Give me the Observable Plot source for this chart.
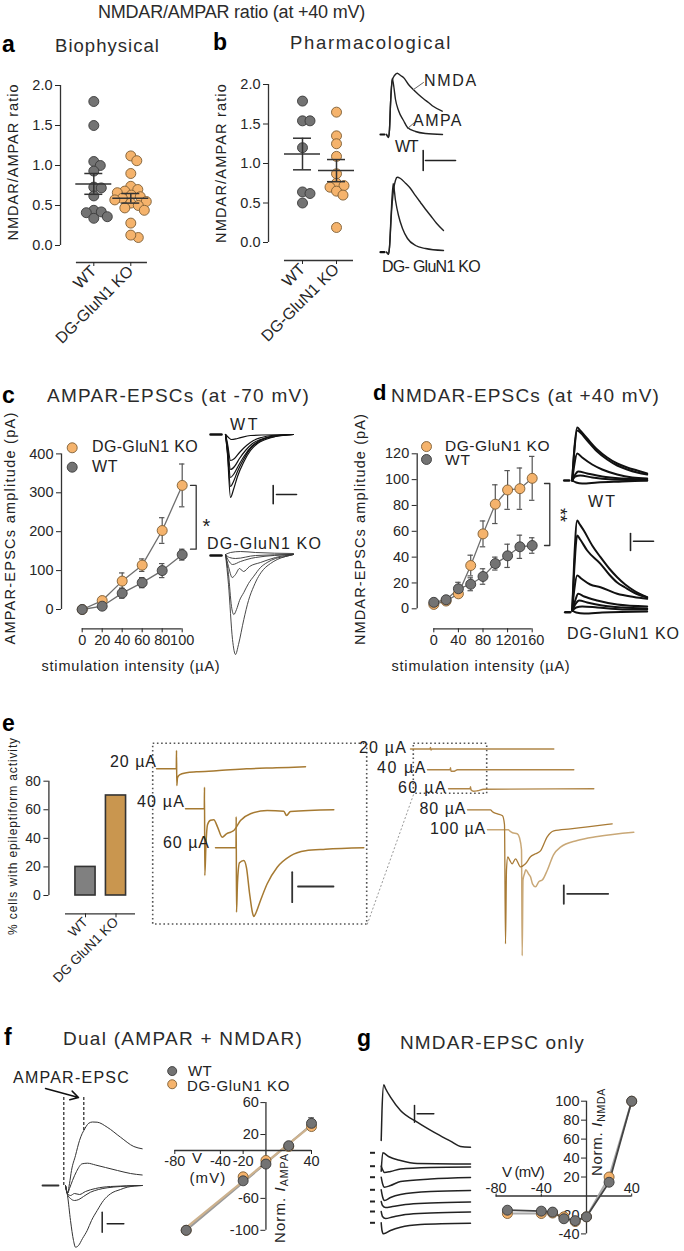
<!DOCTYPE html>
<html><head><meta charset="utf-8">
<script src="https://cdn.jsdelivr.net/npm/d3@7"></script>
<script src="https://cdn.jsdelivr.net/npm/@observablehq/plot@0.6"></script>
<style>
html,body{margin:0;padding:0;background:#fff}
#fig{position:relative;width:684px;height:1251px;overflow:hidden;font-family:"Liberation Sans",Arial,Helvetica,sans-serif;color:#222;background:#fff}
#fig svg{position:absolute;left:0;top:0}
.t{position:absolute;white-space:nowrap;line-height:1;transform:translateY(-50%)}
</style></head><body><div id="fig"></div>
<script>
// ================= DATA =================
const groups = ["WT", "DG-GluN1 KO"];
// a: biophysical NMDAR/AMPAR ratio
const bioWT = [1.80, 1.50, 1.05, 1.00, 0.93, 0.73, 0.72, 0.62, 0.44, 0.42, 0.41, 0.36, 0.34];
const bioKO = [1.12, 1.06, 0.90, 0.74, 0.70, 0.68, 0.66, 0.63, 0.61, 0.59, 0.57, 0.55, 0.53, 0.50, 0.47, 0.44, 0.28, 0.10, 0.13];
const bioMean = [0.77, 0.59];
const bioSem = [0.13, 0.06];
// b: pharmacological ratio
const phWT = [1.79, 1.54, 1.54, 1.20, 0.64, 0.62, 0.50];
const phKO = [1.65, 1.35, 1.25, 1.09, 0.87, 0.75, 0.72, 0.70, 0.65, 0.60, 0.19];
const phMean = [1.12, 0.91];
const phSem = [0.20, 0.14];
// c: AMPAR-EPSC amplitude vs stimulation
const stimC = [0, 20, 40, 60, 80, 100];
const cKO = [0, 23, 73, 114, 203, 319];
const cKOerr = [0, 4, 21, 16, 33, 55];
const cWT = [0, 8.5, 42, 69, 100, 141];
const cWTerr = [0, 3, 13, 13, 18, 14];
// d: NMDAR-EPSC amplitude vs stimulation
const stimD = [0, 20, 40, 60, 80, 100, 120, 140, 160];
const dKO = [3.4, 6, 11.6, 33.5, 58, 81, 92, 93, 101];
const dKOerr = [1, 1, 1.5, 8, 10, 15, 15, 16, 17];
const dWT = [5, 7, 15.5, 19, 25, 35, 41, 48, 49];
const dWTerr = [1, 1, 5, 5, 6, 5, 9, 9, 6];
// e: % cells with epileptiform activity
const epiGroups = ["WT", "DG GluN1 KO"];
const epiPct = [20, 70];
// f: dual I-V
const ivDualV = [-70, -20, 0, 20, 40];
const ivDualWT = [-100, -38, -17, 6, 34];
const ivDualWTerr = [0, 2, 2, 2, 7];
const ivDualKO = [-100, -33, -12.5, 5, 30];
// g: NMDAR-only I-V
const ivNV = [-70, -40, -30, -20, -10, 0, 20, 40];
const ivNWT = [-15, -16, -17, -24, -26, -22, 14.5, 100];
const ivNKO = [-18.5, -18.5, -18, -22, -27, -22, 20, 100];

// example traces (time, current; arbitrary units)
const bWT_AMPA = [3,0, 5,-3, 6,5, 7,30, 8.7,56, 10,50, 12,35, 15,24, 20,14, 24,7, 32,3, 42,1, 59,0];
const bWT_NMDA = [3,0, 5,-3, 6,5, 7,30, 9,55, 11,59, 13.7,61.3, 17,59, 20,57, 25,50, 30,44.7, 35,40, 40,35.7, 45,32, 50,28, 58.7,23.3];
const bKO_AMPA = [3,0, 5,-2, 6,5, 7.5,35, 9.7,68.7, 12,51.7, 15,36.7, 19,23.7, 24,13.7, 32,6.7, 42,3.7, 60,1.7];
const bKO_NMDA = [3,0, 5,-2, 6,5, 8,40, 10,62, 12,72, 13.7,75, 17,73.7, 22,69, 27,63.7, 32,56.5, 37,49.7, 42,43, 47,36.7, 53,29, 60,21.7];
const cWTtraces = [
  [0,0, 2,-20, 5,-63, 8,-55, 12,-42, 18,-28, 25,-16, 32,-9, 40,-5, 50,-2, 68,0],
  [0,0, 2,-18, 5,-52, 8,-47, 12,-37, 18,-25, 25,-14, 32,-8, 40,-4, 50,-2, 68,0],
  [0,0, 2,-15, 5,-43, 8,-40, 13,-31, 19,-21, 26,-12, 34,-6, 42,-3, 52,-1, 68,0],
  [0,0, 2,-12, 5,-35, 9,-32, 14,-24, 20,-16, 27,-9, 35,-5, 45,-2, 68,0],
  [0,0, 2,-9, 5,-26, 9,-24, 14,-18, 21,-11, 28,-6, 36,-3, 46,-1, 68,0],
  [0,0, 3,-3, 6,-5, 12,-4, 25,-1, 68,0]
];
const cKOtraces = [
  [0,0, 3,-30, 7,-85, 10,-100, 13,-90, 18.3,-65, 23,-46, 28.3,-31.7, 33,-22, 38,-15, 45,-9, 51.7,-5, 60,-2, 68,0],
  [0,0, 3,-20, 6,-52, 8.3,-60, 11,-55, 14,-46, 18.3,-38, 23,-29, 28.3,-21.7, 35,-13, 41.7,-8, 50,-4, 60,-2, 68,0],
  [0,0, 3,-12, 6.7,-23, 10,-20, 14,-14, 18,-17, 24,-12, 35,-8, 50,-3, 68,0],
  [0,0, 3,-6, 7,-10, 15,-7, 30,-3, 68,0],
  [0,0, 4,-3, 10,-4, 30,-1, 68,0],
  [0,0, 5,2, 15,3, 30,2, 68,1]
];
const dWTtraces = [
  [0,0, 2,30, 5,53, 8,50, 15,42, 25,31, 35,23, 45,17, 55,13, 65,10, 75,7],
  [0,0, 2,28, 5,50, 8,48, 15,40, 25,29, 35,21, 45,15, 55,11, 65,8, 75,6],
  [0,0, 2,15, 5,27, 10,23, 20,16, 30,11, 45,6, 60,3, 75,2],
  [0,0, 3,6, 6,9, 15,7, 30,4, 50,2, 75,1],
  [0,0, 3,4, 8,5, 20,3, 40,1, 75,0],
  [0,0, 4,-2, 10,-3, 25,-2, 50,-1, 75,0]
];
const dKOtraces = [
  [0,0, 2,50, 5,90, 7,87, 11.6,80, 20,65, 28.3,53.3, 37,42, 45,33.3, 53,26, 61.6,20, 75,13.3],
  [0,0, 2,40, 5,75, 8,71, 15,60, 28.3,46.7, 37,36, 45,28, 53,23, 61.6,18, 75,13],
  [0,0, 2,20, 5,35, 9,32, 18,26, 28.3,23.3, 45,16.7, 61.6,13.5, 75,11.7],
  [0,0, 3,10, 6,16.7, 12,14, 25,10, 45,6, 75,4],
  [0,0, 3,6, 7,10, 15,8, 30,5, 50,3, 75,2],
  [0,0, 4,3, 10,4, 25,3, 50,1, 75,1],
  [0,0, 4,-2, 12,-3, 30,-2, 75,-1]
];
const eLeftTraces = [
  [0,0, 19.8,0, 20,18.3, 20.3,-16.7, 21,-9, 23,-6, 30,-4, 40,-3, 60,-2, 90,0, 120,1, 149,2],
  [0,0, 18.8,0, 19,21.6, 19.3,-66.7, 20.5,-35, 22,-16, 25,-11.5, 28.3,-11, 32,-18, 36.7,-28.4, 41,-25, 45,-23.4, 48.3,-21.7, 55,-11.7, 65,-5, 81.7,-1.7, 98.3,-2.4, 101,-6.7, 105,-2.7, 148.3,-1],
  [0,0, 20.5,0, 20.7,31, 21,-64.4, 22,-35, 24,-15, 28.3,-12.7, 31,-20, 34,-45, 37,-65, 38.3,-68.7, 40,-66, 45,-52.7, 51.7,-36, 61.7,-19.4, 75,-8, 90,-3, 110,-1.5, 148.3,0]
];
const eRightTraces = [
  [0,0, 19.5,0, 20,1.5, 20.5,-1, 21.5,0, 143.3,0],
  [0,0, 22.5,0, 23,2, 23.5,-1.5, 26,-1.5, 30,0, 146.3,0],
  [0,0, 21.5,0, 22,2, 22.5,-1, 25,-2.5, 29,-2, 35,-0.5, 145.3,0],
  [0,0, 23,0, 25,-2, 30,-4, 35,-6, 37,-15, 38,-134, 39,-60, 40.3,-47, 42,-50, 44.7,-54, 48,-49, 53,-57, 58,-54, 63,-47, 68,-44, 73,-41, 79.7,-27, 86.3,-21, 103,-19, 120,-17, 144.7,-14],
  [0,0, 21,0, 22,-1, 25,-3, 29.7,-4, 32,-8, 34,-20, 34.7,-126, 35.5,-50, 37,-44, 38.3,-40, 41,-44, 43,-47, 45,-54, 48,-57, 51.3,-52, 55,-50, 59.7,-40.7, 66,-25, 73,-17.4, 89.7,-10.7, 110,-6.7, 146.3,-2.4]
];
const fTraces = [
  [0,0, 2,-8, 4,2, 6,15, 10,30, 14,45, 16.7,52, 18.3,55, 23.3,62.3, 27,63.5, 31.7,63.3, 41.7,58.3, 55,48.3, 68.3,39, 76.7,36.7],
  [0,0, 2,-8, 4,-3, 7,5, 11,14, 16.7,21.7, 22,22.3, 30,20.5, 40,18, 52,15, 65,12, 76.7,10.5],
  [0,0, 2,-8, 5,-10, 9,-8, 14,-9, 20,-6, 30,-3, 45,-1, 76.7,0],
  [0,0, 2,-9, 5,-13, 9,-15, 13.3,-14, 18,-11, 25,-6.7, 33,-4, 41.7,-2.3, 55,-1, 76.7,0],
  [0,0, 2,-10, 5,-35, 8,-55, 10,-61.7, 13,-60, 17,-53, 21.7,-45, 26,-35, 31.7,-25, 38,-15, 45,-8.3, 55,-4, 61.7,-1.7, 76.7,0]
];
const gTraces = [
  [0.7,0, 1.5,30, 3.3,55.7, 5,52, 10,43.3, 20,30, 36.7,18.3, 53.3,8.3, 70,-0.7, 80,-6, 90,-6.7],
  [0.7,-30.7, 2.3,-12.3, 8,-16, 20,-20, 36.7,-23, 90,-23.5],
  [0.7,-25.7, 2,-29, 4,-32, 10,-31, 20,-28.5, 50,-27, 90,-26.5],
  [0.7,-36.7, 2,-43, 4,-46.7, 10,-45, 20,-41, 50,-38.5, 90,-37],
  [0.7,-49.3, 2,-56, 4,-60, 10,-57, 20,-54, 50,-51, 90,-50],
  [0.7,-61, 2,-65, 5,-67, 12,-66, 25,-64, 50,-62.5, 90,-61.5],
  [0.7,-71, 2,-76, 5,-78, 12,-76.5, 25,-74, 50,-72.5, 90,-71.5],
  [0.7,-82.3, 1.5,-90, 3,-93.3, 10,-90, 20,-86.7, 40,-84, 90,-82.8]
];
const gStubLevels = [-12.3, -25.7, -36.7, -49.3, -61, -71, -82.3];

// ================= HELPERS =================
const W = 684, H = 1251;
const FONT = '"Liberation Sans", Arial, Helvetica, sans-serif';
const AX = "#333";
const GF = "#737373", GS = "#3a3a3a", OF = "#F5B36C", OS = "#7d5e34";
const fig = document.getElementById("fig");

function layer(frame, x, y, marks) {
  const [l, t, r, b] = frame;
  const svg = Plot.plot({
    width: W, height: H,
    marginLeft: l, marginTop: t, marginRight: W - r, marginBottom: H - b,
    x: {axis: null, ...x}, y: {axis: null, ...y},
    style: {background: "none", fontFamily: FONT, fontSize: "14px", color: "#262626", overflow: "visible"},
    marks
  });
  svg.style.position = "absolute"; svg.style.left = "0px"; svg.style.top = "0px";
  fig.appendChild(svg);
  return svg;
}
// trace layer: 1 unit = 1 px, origin at (ox, oy), y up
function traceLayer(ox, oy, marks) {
  return layer([0, 0, W, H], {domain: [0, 100], range: [ox, ox + 100]}, {domain: [0, 100], range: [oy, oy - 100]}, marks);
}
function rows(traces, offsets) {
  const out = [];
  traces.forEach((p, k) => {
    const [t0, v0] = offsets ? offsets[k] : [0, 0];
    for (let i = 0; i < p.length; i += 2) out.push({id: k, t: t0 + p[i], v: v0 + p[i + 1]});
  });
  return out;
}
function seg(pairs) { return pairs.map(([t, v]) => ({t, v})); }
function txt(html, x, y, o = {}) {
  const el = document.createElement("div");
  el.className = "t";
  el.innerHTML = html;
  el.style.fontSize = (o.size || 15) + "px";
  if (o.bold) el.style.fontWeight = "bold";
  if (o.color) el.style.color = o.color;
  el.style.left = "0px"; el.style.top = "0px";
  fig.appendChild(el);
  if (o.width) {
    const w0 = el.getBoundingClientRect().width;
    const n = el.textContent.length;
    el.style.letterSpacing = ((o.width - w0) / n) + "px";
  }
  const w = el.getBoundingClientRect().width;
  const a = o.anchor || "start";
  let left = a === "start" ? x : a === "middle" ? x - w / 2 : x - w;
  if (o.rotate) left = x - w / 2;
  el.style.left = left + "px";
  el.style.top = y + "px";
  el.style.transform = "translateY(-50%)" + (o.rotate ? ` rotate(${o.rotate}deg)` : "");
  return el;
}
function swarm(values, g, pxX, pxY, r) {
  const placed = [];
  const order = values.map((v, i) => i).sort((a, b) => values[b] - values[a]);
  const out = new Array(values.length);
  for (const i of order) {
    const py = values[i] * pxY;
    let dx = 0;
    for (let k = 0; k < 400; k++) {
      const c = k === 0 ? 0 : (k % 2 ? 1 : -1) * Math.ceil(k / 2) * 0.5;
      if (placed.every(q => (q.dx - c) ** 2 + (q.py - py) ** 2 >= (1.5 * r) ** 2)) { dx = c; break; }
    }
    placed.push({dx, py});
    out[i] = {x: g + dx / pxX, value: values[i]};
  }
  return out;
}
function ratioPanel({frame, x, y, wt, ko, mean, sem, pxX, pxY, baseY, baseX}) {
  const stats = mean.map((m, i) => ({g: i + 1, m, lo: m - sem[i], hi: m + sem[i]}));
  const hw = 18 / pxX, cw = 9 / pxX;
  layer(frame, x, y, [
    Plot.ruleX([x.domain[0]], {y1: 0, y2: 2, stroke: AX, strokeWidth: 1.3}),
    Plot.axisY({anchor: "left", ticks: [0, 0.5, 1, 1.5, 2], tickFormat: d3.format(".1f"), tickSize: 5, tickPadding: 3, fontSize: 14.5, label: null}),
    Plot.ruleY([baseY], {x1: baseX[0], x2: baseX[1], stroke: AX, strokeWidth: 1.3}),
    Plot.axisX({anchor: "bottom", ticks: [1, 2], tickFormat: i => groups[i - 1], tickRotate: -45, tickSize: 4, tickPadding: 2, fontSize: 16, label: null}),
    Plot.dot(swarm(wt, 1, pxX, pxY, 5), {x: "x", y: "value", r: 5, fill: GF, stroke: GS, strokeWidth: 0.9}),
    Plot.dot(swarm(ko, 2, pxX, pxY, 5), {x: "x", y: "value", r: 5, fill: OF, stroke: OS, strokeWidth: 0.9}),
    Plot.ruleY(stats, {y: "m", x1: d => d.g - hw, x2: d => d.g + hw, stroke: "#333", strokeWidth: 1.5}),
    Plot.ruleY(stats, {y: "hi", x1: d => d.g - cw, x2: d => d.g + cw, stroke: "#333", strokeWidth: 1.5}),
    Plot.ruleY(stats, {y: "lo", x1: d => d.g - cw, x2: d => d.g + cw, stroke: "#333", strokeWidth: 1.5}),
    Plot.ruleX(stats, {x: "g", y1: "lo", y2: "hi", stroke: "#333", strokeWidth: 1.5})
  ]);
}
function curvePanel({frame, x, y, stim, ko, koErr, wt, wtErr, cap, yTicks, xTicks, baseY, legend, bracket}) {
  const K = stim.map((s, i) => ({s, m: ko[i], e: koErr[i]}));
  const Wd = stim.map((s, i) => ({s, m: wt[i], e: wtErr[i]}));
  const E = [...K, ...Wd].filter(d => d.e > 0);
  layer(frame, x, y, [
    Plot.ruleX([x.domain[0]], {y1: y.domain[0], y2: y.domain[1], stroke: AX, strokeWidth: 1.3}),
    Plot.axisY({anchor: "left", ticks: yTicks, tickSize: 5, tickPadding: 3, fontSize: 14.5, label: null}),
    Plot.ruleY([baseY], {x1: stim[0], x2: stim[stim.length - 1], stroke: AX, strokeWidth: 1.3}),
    Plot.axisX({anchor: "bottom", ticks: xTicks, tickSize: 4, tickPadding: 2, fontSize: 14.5, label: null}),
    Plot.line(K, {x: "s", y: "m", stroke: "#6e6e6e", strokeWidth: 1.3}),
    Plot.line(Wd, {x: "s", y: "m", stroke: "#6e6e6e", strokeWidth: 1.3}),
    Plot.ruleX(E, {x: "s", y1: d => d.m - d.e, y2: d => d.m + d.e, stroke: "#555", strokeWidth: 1.2}),
    Plot.ruleY(E, {y: d => d.m + d.e, x1: d => d.s - cap, x2: d => d.s + cap, stroke: "#555", strokeWidth: 1.2}),
    Plot.ruleY(E, {y: d => d.m - d.e, x1: d => d.s - cap, x2: d => d.s + cap, stroke: "#555", strokeWidth: 1.2}),
    Plot.dot(K, {x: "s", y: "m", r: 5, fill: OF, stroke: OS, strokeWidth: 0.9}),
    Plot.dot(Wd, {x: "s", y: "m", r: 5, fill: GF, stroke: GS, strokeWidth: 0.9}),
    Plot.dot([legend[0]], {x: "x", y: "y", r: 5, fill: OF, stroke: OS, strokeWidth: 0.9}),
    Plot.dot([legend[1]], {x: "x", y: "y", r: 5, fill: GF, stroke: GS, strokeWidth: 0.9}),
    Plot.line(bracket, {x: "x", y: "y", stroke: "#333", strokeWidth: 1.3})
  ]);
}

// ================= TITLES =================
txt("NMDAR/AMPAR ratio (at +40 mV)", 98, 12, {size: 18, width: 267, color: "#2b2b2b"});
txt("a", 2, 44, {size: 23, bold: true, color: "#000"});
txt("Biophysical", 55, 46, {size: 18.5, width: 105, color: "#2b2b2b"});
txt("b", 213, 42, {size: 23, bold: true, color: "#000"});
txt("Pharmacological", 290, 43, {size: 18.5, width: 162, color: "#2b2b2b"});
txt("c", 2, 395, {size: 23, bold: true, color: "#000"});
txt("AMPAR-EPSCs (at -70 mV)", 47, 395, {size: 19, width: 263, color: "#2b2b2b"});
txt("d", 373, 393, {size: 22, bold: true, color: "#000"});
txt("NMDAR-EPSCs (at +40 mV)", 391, 395, {size: 19, width: 269, color: "#2b2b2b"});
txt("e", 2, 723, {size: 23, bold: true, color: "#000"});
txt("f", 4, 1037, {size: 23, bold: true, color: "#000"});
txt("Dual (AMPAR + NMDAR)", 63, 1038, {size: 19, width: 240, color: "#2b2b2b"});
txt("g", 357, 1038, {size: 23, bold: true, color: "#000"});
txt("NMDAR-EPSC only", 400, 1042, {size: 19, width: 185, color: "#2b2b2b"});

// ================= PANEL a / b =================
ratioPanel({frame: [60, 85, 150, 262], x: {domain: [0.1, 2.5], range: [60, 148.8]}, y: {domain: [0, 2], range: [245, 85]},
  wt: bioWT, ko: bioKO, mean: bioMean, sem: bioSem, pxX: 37, pxY: 80, baseY: -0.2125, baseX: [0.53, 2.45]});
txt("NMDAR/AMPAR ratio", 13, 162, {size: 14.5, width: 157, rotate: -90});
ratioPanel({frame: [268, 84, 360, 260], x: {domain: [0, 2.6], range: [268, 356.4]}, y: {domain: [0, 2], range: [242, 84]},
  wt: phWT, ko: phKO, mean: phMean, sem: phSem, pxX: 34, pxY: 79, baseY: -0.228, baseX: [0.47, 2.5]});
txt("NMDAR/AMPAR ratio", 221, 163, {size: 14.5, width: 160, rotate: -90});

// b traces (origin 383,134)
traceLayer(383, 134, [
  Plot.line(rows([bWT_NMDA, bWT_AMPA]), {x: "t", y: "v", z: "id", stroke: "#222", strokeWidth: 1.4, curve: "monotone-x"}),
  Plot.line(rows([bKO_NMDA, bKO_AMPA], [[0, -117.7], [0, -117.7]]), {x: "t", y: "v", z: "id", stroke: "#222", strokeWidth: 1.4, curve: "monotone-x"}),
  Plot.line(seg([[-3, 0], [1, 0]]), {x: "t", y: "v", stroke: "#111", strokeWidth: 2.2}),
  Plot.line(seg([[-3, -117.7], [1, -117.7]]), {x: "t", y: "v", stroke: "#111", strokeWidth: 2.2}),
  Plot.line(seg([[30, 45], [40, 52]]), {x: "t", y: "v", stroke: "#666", strokeWidth: 1}),
  Plot.line(seg([[24, 6], [31, 12]]), {x: "t", y: "v", stroke: "#666", strokeWidth: 1}),
  Plot.line(seg([[39.7, -16], [39.7, -36]]), {x: "t", y: "v", stroke: "#222", strokeWidth: 1.6}),
  Plot.line(seg([[42, -26], [72, -26]]), {x: "t", y: "v", stroke: "#222", strokeWidth: 1.6})
]);
txt("NMDA", 424, 81, {size: 16, width: 54});
txt("AMPA", 413, 121, {size: 16, width: 50});
txt("WT", 395, 147, {size: 16, width: 22});
txt("DG- GluN1 KO", 382, 267, {size: 16, width: 98});

// ================= PANEL c =================
curvePanel({frame: [61, 453.4, 182, 628.3], x: {domain: [-20.7, 100], range: [61, 181.7]}, y: {domain: [0, 400], range: [609, 453.4]},
  stim: stimC, ko: cKO, koErr: cKOerr, wt: cWT, wtErr: cWTerr, cap: 2.7, yTicks: [0, 100, 200, 300, 400], xTicks: stimC,
  baseY: -49.6, legend: [{x: -10, y: 415.7}, {x: -10, y: 365.8}],
  bracket: [{x: 108.3, y: 319}, {x: 114, y: 319}, {x: 114, y: 155}, {x: 108.3, y: 155}]});
txt("AMPAR-EPSCs amplitude (pA)", 10, 528, {size: 14.5, width: 233, rotate: -90});
txt("stimulation intensity (µA)", 131, 666, {size: 14.5, width: 179, anchor: "middle"});
txt("DG-GluN1 KO", 92, 447, {size: 16, width: 106});
txt("WT", 92, 467, {size: 16, width: 26});
txt("*", 206.5, 526, {size: 20, anchor: "middle"});
traceLayer(225, 434, [
  Plot.line(rows(cWTtraces), {x: "t", y: "v", z: "id", stroke: "#111", strokeWidth: 1.2, curve: "monotone-x"}),
  Plot.line(rows(cKOtraces, cKOtraces.map(() => [0, -120])), {x: "t", y: "v", z: "id", stroke: "#333", strokeWidth: 0.9, curve: "monotone-x"}),
  Plot.line(seg([[-15, 0], [-4, 0]]), {x: "t", y: "v", stroke: "#111", strokeWidth: 2.5}),
  Plot.line(seg([[-15, -121], [-4, -121]]), {x: "t", y: "v", stroke: "#111", strokeWidth: 2.5}),
  Plot.line(seg([[47.7, -51], [47.7, -69.3]]), {x: "t", y: "v", stroke: "#222", strokeWidth: 1.6}),
  Plot.line(seg([[51, -60], [71, -60]]), {x: "t", y: "v", stroke: "#222", strokeWidth: 1.6})
]);
txt("WT", 230, 425, {size: 16, width: 30});
txt("DG-GluN1 KO", 207, 544, {size: 16, width: 115});

// ================= PANEL d =================
curvePanel({frame: [416.7, 453.3, 532, 628.3], x: {domain: [-27, 160], range: [416.7, 531.7]}, y: {domain: [0, 120], range: [608.3, 453.3]},
  stim: stimD, ko: dKO, koErr: dKOerr, wt: dWT, wtErr: dWTerr, cap: 4.4, yTicks: [0, 20, 40, 60, 80, 100, 120], xTicks: [0, 40, 80, 120, 160],
  baseY: -15.5, legend: [{x: -11.9, y: 125.6}, {x: -11.9, y: 115.6}],
  bracket: [{x: 180, y: 97}, {x: 188.6, y: 97}, {x: 188.6, y: 49}, {x: 180, y: 49}]});
txt("NMDAR-EPSCs amplitude (pA)", 360, 529, {size: 14.5, width: 232, rotate: -90});
txt("stimulation intensity (µA)", 481, 666, {size: 14.5, width: 179, anchor: "middle"});
txt("DG-GluN1 KO", 445, 445.5, {size: 15.5, width: 105});
txt("WT", 445, 460, {size: 15.5, width: 26});
txt("**", 560, 515, {size: 18, rotate: 90});
traceLayer(571.7, 480, [
  Plot.line(rows(dWTtraces), {x: "t", y: "v", z: "id", stroke: "#111", strokeWidth: 2, curve: "monotone-x"}),
  Plot.line(rows(dKOtraces, dKOtraces.map(() => [0, -130])), {x: "t", y: "v", z: "id", stroke: "#111", strokeWidth: 2, curve: "monotone-x"}),
  Plot.line(seg([[-8, 0], [-3, 0]]), {x: "t", y: "v", stroke: "#111", strokeWidth: 2.5}),
  Plot.line(seg([[-7, -131.7], [-2, -131.7]]), {x: "t", y: "v", stroke: "#111", strokeWidth: 2.5}),
  Plot.line(seg([[58.3, -53], [58.3, -70]]), {x: "t", y: "v", stroke: "#222", strokeWidth: 1.6}),
  Plot.line(seg([[61.3, -60.7], [81.3, -60.7]]), {x: "t", y: "v", stroke: "#222", strokeWidth: 1.6})
]);
txt("WT", 588, 502, {size: 16, width: 29});
txt("DG-GluN1 KO", 567, 634, {size: 16, width: 113});

// ================= PANEL e =================
const bars = epiPct.map((p, i) => ({i: i + 1, p}));
layer([48.4, 780.7, 135, 913.3], {domain: [-0.2, 2.5], range: [48.4, 130.75]}, {domain: [0, 80], range: [895, 780.7]}, [
  Plot.ruleX([-0.2], {y1: 0, y2: 80, stroke: AX, strokeWidth: 1.3}),
  Plot.axisY({anchor: "left", ticks: [0, 20, 40, 60, 80], tickSize: 5, tickPadding: 3, fontSize: 14, label: null}),
  Plot.ruleY([-12.8], {x1: 0.344, x2: 2.64, stroke: AX, strokeWidth: 1.3}),
  Plot.axisX({anchor: "bottom", ticks: [1, 2], tickFormat: i => epiGroups[i - 1], tickRotate: -45, tickSize: 4, tickPadding: 2, fontSize: 13.5, label: null}),
  Plot.rect(bars, {x1: d => d.i - 0.33, x2: d => d.i + 0.33, y1: 0, y2: "p", fill: d => d.i === 1 ? "#808080" : "#C9964F", stroke: "#333", strokeWidth: 1.6})
]);
txt("% cells with epileptiform activity", 13, 836, {size: 12, width: 198, rotate: -90});
traceLayer(150, 740, [
  Plot.rect([{x1: 2.7, x2: 216.7, y1: -3.3, y2: -184}], {x1: "x1", x2: "x2", y1: "y1", y2: "y2", fill: "none", stroke: "#555", strokeWidth: 1.6, strokeDasharray: "1.6,2.6"}),
  Plot.rect([{x1: 263.3, x2: 336.7, y1: -3.3, y2: -53.3}], {x1: "x1", x2: "x2", y1: "y1", y2: "y2", fill: "none", stroke: "#555", strokeWidth: 1.6, strokeDasharray: "1.6,2.6"}),
  Plot.link([{x1: 216.7, y1: -184, x2: 263.3, y2: -53.3}], {x1: "x1", y1: "y1", x2: "x2", y2: "y2", stroke: "#999", strokeWidth: 1, strokeDasharray: "2,2"}),
  Plot.line(rows(eLeftTraces, [[6, -28.3], [35, -68.3], [65, -107.3]]), {x: "t", y: "v", z: "id", stroke: "#A67A32", strokeWidth: 1.5, curve: "monotone-x"}),
  Plot.line(rows(eRightTraces.slice(0, 3), [[260, -8.5], [277, -29.3], [298, -48.3]]), {x: "t", y: "v", z: "id", stroke: "#B08648", strokeWidth: 1.4, curve: "monotone-x"}),
  Plot.line(rows([eRightTraces[4]], [[337, -89.3]]), {x: "t", y: "v", z: "id", stroke: "#C9A877", strokeWidth: 1.5, curve: "monotone-x"}),
  Plot.line(rows([eRightTraces[3]], [[317, -69.3]]), {x: "t", y: "v", z: "id", stroke: "#A87A35", strokeWidth: 1.3, curve: "monotone-x"}),
  Plot.line(seg([[141.7, -131.7], [141.7, -161.7]]), {x: "t", y: "v", stroke: "#333", strokeWidth: 1.8}),
  Plot.line(seg([[147.5, -146], [183, -146]]), {x: "t", y: "v", stroke: "#333", strokeWidth: 1.8}),
  Plot.line(seg([[413.3, -145], [413.3, -163.3]]), {x: "t", y: "v", stroke: "#333", strokeWidth: 1.8}),
  Plot.line(seg([[416.7, -153.3], [457.7, -153.3]]), {x: "t", y: "v", stroke: "#333", strokeWidth: 1.8})
]);
txt("20 µA", 157, 762, {size: 16, width: 47, anchor: "end"});
txt("40 µA", 185, 802, {size: 16, width: 48, anchor: "end"});
txt("60 µA", 210, 843, {size: 16, width: 47, anchor: "end"});
txt("20 µA", 407, 748, {size: 16, width: 48, anchor: "end"});
txt("40 µA", 427, 768, {size: 16, width: 50, anchor: "end"});
txt("60 µA", 447, 788, {size: 16, width: 49, anchor: "end"});
txt("80 µA", 466.5, 809, {size: 16, width: 47, anchor: "end"});
txt("100 µA", 486, 829, {size: 16, width: 56, anchor: "end"});

// ================= PANEL f =================
traceLayer(65, 1185, [
  Plot.line(rows(fTraces), {x: "t", y: "v", z: "id", stroke: "#333", strokeWidth: 1, curve: "monotone-x"}),
  Plot.line(seg([[-23, 0], [-7, 0]]), {x: "t", y: "v", stroke: "#333", strokeWidth: 1.8}),
  Plot.ruleX([-1.7], {y1: 0, y2: 90, stroke: "#222", strokeWidth: 1.2, strokeDasharray: "3,2"}),
  Plot.ruleX([18.3], {y1: 55, y2: 88.3, stroke: "#222", strokeWidth: 1.2, strokeDasharray: "3,2"}),
  Plot.arrow([{x1: -20, y1: 97, x2: 13, y2: 88}], {x1: "x1", y1: "y1", x2: "x2", y2: "y2", stroke: "#111", strokeWidth: 1.5, headLength: 9}),
  Plot.line(seg([[36.7, -26.7], [36.7, -46.7]]), {x: "t", y: "v", stroke: "#222", strokeWidth: 1.5}),
  Plot.line(seg([[41.7, -38.3], [58.3, -38.3]]), {x: "t", y: "v", stroke: "#222", strokeWidth: 1.5})
]);
txt("AMPAR-EPSC", 13, 1078, {size: 16, width: 117});
const fWT = ivDualV.map((v, i) => ({v, y: ivDualWT[i], e: ivDualWTerr[i]}));
const fKO = ivDualV.map((v, i) => ({v, y: ivDualKO[i]}));
layer([265.4, 1102, 312, 1150], {domain: [-80, 40], range: [174.3, 311]}, {domain: [-100, 60], range: [1229.8, 1102.1]}, [
  Plot.linearRegressionY(fWT, {x: "v", y: "y", stroke: "#9a9a9a", strokeWidth: 2.2, ci: 0}),
  Plot.linearRegressionY(fKO, {x: "v", y: "y", stroke: "#CDB28E", strokeWidth: 2.2, ci: 0}),
  Plot.ruleX([0], {y1: -100, y2: 60, stroke: AX, strokeWidth: 1.3}),
  Plot.ruleY([0], {x1: -80, x2: 40, stroke: AX, strokeWidth: 1.3}),
  Plot.axisY({anchor: "left", ticks: [60, 20, -20, -60, -100], tickFormat: d => d === -20 ? "" : String(d), tickSize: 5, tickPadding: 2, fontSize: 14.5, label: null}),
  Plot.axisX({anchor: "bottom", ticks: [-80, -40, -20, 40], tickFormat: d => String(d), tickSize: 4, tickPadding: 1, fontSize: 14.5, label: null}),
  Plot.ruleX(fWT.filter(d => d.e > 0), {x: "v", y1: d => d.y - d.e, y2: d => d.y + d.e, stroke: "#555", strokeWidth: 1.2}),
  Plot.ruleY(fWT.filter(d => d.e > 0), {y: d => d.y + d.e, x1: d => d.v - 2.5, x2: d => d.v + 2.5, stroke: "#555", strokeWidth: 1.2}),
  Plot.dot(fKO, {x: "v", y: "y", r: 5, fill: OF, stroke: OS, strokeWidth: 0.9}),
  Plot.dot(fWT, {x: "v", y: "y", r: 5, fill: GF, stroke: GS, strokeWidth: 0.9}),
  Plot.dot([{x: -82.3, y: 99.5}], {x: "x", y: "y", r: 4.5, fill: GF, stroke: GS, strokeWidth: 0.9}),
  Plot.dot([{x: -82.3, y: 83}], {x: "x", y: "y", r: 4.5, fill: OF, stroke: OS, strokeWidth: 0.9})
]);
txt("WT", 188, 1070, {size: 15, width: 24});
txt("DG-GluN1 KO", 187, 1084.5, {size: 15, width: 103});
txt("V", 197, 1157, {size: 15, anchor: "middle"});
txt("(mV)", 208, 1177, {size: 15, width: 37, anchor: "middle"});
txt('Norm. <i>I</i><span style="font-size:0.7em;vertical-align:-0.3em">AMPA</span>', 281, 1198, {size: 15, width: 90, rotate: -90});

// ================= PANEL g =================
traceLayer(380, 1140, [
  Plot.line(rows(gTraces), {x: "t", y: "v", z: "id", stroke: "#222", strokeWidth: 1.5, curve: "monotone-x"}),
  Plot.ruleY(gStubLevels, {x1: -10, x2: -5, stroke: "#222", strokeWidth: 2}),
  Plot.line(seg([[34, 35], [34, 18.3]]), {x: "t", y: "v", stroke: "#222", strokeWidth: 1.5}),
  Plot.line(seg([[36.7, 26.7], [53.3, 26.7]]), {x: "t", y: "v", stroke: "#222", strokeWidth: 1.5})
]);
const gWT = ivNV.map((v, i) => ({v, y: ivNWT[i]}));
const gKO = ivNV.map((v, i) => ({v, y: ivNKO[i]}));
layer([586, 1195.5, 632, 1233.4], {domain: [-80, 40], range: [495.6, 631.2]}, {domain: [-40, 100], range: [1233.4, 1100.7]}, [
  Plot.ruleX([0], {y1: -40, y2: 100, stroke: AX, strokeWidth: 1.3}),
  Plot.ruleY([0], {x1: -80, x2: 40, stroke: AX, strokeWidth: 1.3}),
  Plot.axisY({anchor: "left", ticks: [100, 80, 60, 40, 20, -20, -40], tickFormat: d => String(d), tickSize: 5, tickPadding: 2, fontSize: 14.5, label: null}),
  Plot.axisX({anchor: "top", ticks: [-80, -40, 40], tickFormat: d => String(d), tickSize: 3, tickPadding: 0, fontSize: 14.5, label: null}),
  Plot.line(gKO, {x: "v", y: "y", stroke: "#aaa", strokeWidth: 2}),
  Plot.line(gWT, {x: "v", y: "y", stroke: "#444", strokeWidth: 1.8}),
  Plot.dot(gKO, {x: "v", y: "y", r: 5, fill: OF, stroke: OS, strokeWidth: 0.9}),
  Plot.dot(gWT, {x: "v", y: "y", r: 5, fill: GF, stroke: GS, strokeWidth: 0.9})
]);
txt("V (mV)", 502, 1171, {size: 15, width: 42});
txt('Norm. <i>I</i><span style="font-size:0.7em;vertical-align:-0.3em">NMDA</span>', 598, 1132, {size: 15, width: 88, rotate: -90});
</script></body></html>
